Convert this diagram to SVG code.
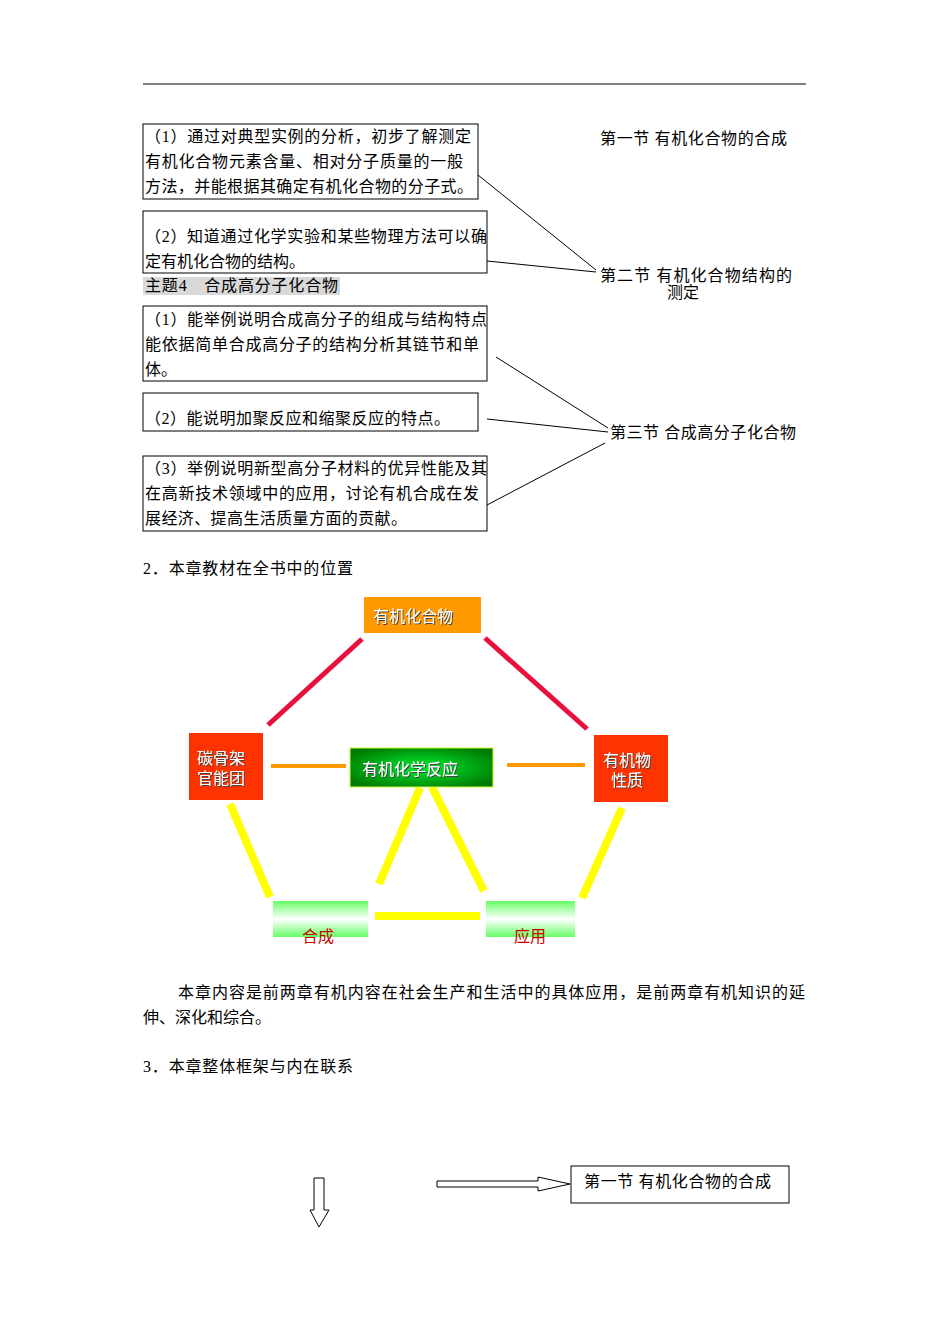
<svg xmlns="http://www.w3.org/2000/svg" width="950" height="1344" viewBox="0 0 950 1344">
<style>
.t{font-family:"Liberation Serif","Noto Sans CJK SC",serif;font-size:16px;fill:#000}
.b{fill:#fff;stroke:#000;stroke-width:1}
.w{font-family:"Noto Sans CJK SC",sans-serif;font-size:16px;fill:#fff;filter:url(#ds)}
.r{stroke:#E8103C;stroke-width:5}
.o{stroke:#FF9900;stroke-width:4}
.y{stroke:#FFFF00;stroke-width:8}
.k{stroke:#000;stroke-width:1;fill:none}
</style>
<defs>
<filter id="ds" x="-10%" y="-20%" width="130%" height="150%"><feDropShadow dx="1" dy="1" stdDeviation="0.3" flood-color="#444"/></filter>
<radialGradient id="gg" cx="0.5" cy="0.5" r="0.6"><stop offset="0" stop-color="#00ee33"/><stop offset="1" stop-color="#007a00"/></radialGradient>
<linearGradient id="lg" x1="0" y1="0" x2="0" y2="1"><stop offset="0" stop-color="#66ff66"/><stop offset="0.5" stop-color="#ffffff"/><stop offset="1" stop-color="#66ff66"/></linearGradient>
</defs>
<rect width="950" height="1344" fill="#fff"/>
<line x1="143" y1="84" x2="806" y2="84" stroke="#000" stroke-width="1"/>
<g id="box1"><rect class="b" x="143" y="124" width="335" height="75"/>
<text class="t" x="145" y="142" textLength="326">（1）通过对典型实例的分析，初步了解测定</text>
<text class="t" x="145" y="167" textLength="318">有机化合物元素含量、相对分子质量的一般</text>
<text class="t" x="145" y="192" textLength="328">方法，并能根据其确定有机化合物的分子式。</text></g>
<g id="box2"><rect class="b" x="143" y="211" width="344" height="62"/>
<text class="t" x="145" y="242" textLength="342">（2）知道通过化学实验和某些物理方法可以确</text>
<text class="t" x="145" y="267">定有机化合物的结构。</text></g>
<g id="topic"><rect x="143" y="277" width="197" height="18" fill="#d9d9d9"/>
<text class="t" x="145" y="291" textLength="193">主题4　合成高分子化合物</text></g>
<g id="box3"><rect class="b" x="143" y="306" width="344" height="75"/>
<text class="t" x="145" y="325" textLength="342">（1）能举例说明合成高分子的组成与结构特点</text>
<text class="t" x="145" y="350" textLength="334">能依据简单合成高分子的结构分析其链节和单</text>
<text class="t" x="145" y="375">体。</text></g>
<g id="box4"><rect class="b" x="143" y="393" width="335" height="38"/>
<text class="t" x="145" y="424" textLength="305">（2）能说明加聚反应和缩聚反应的特点。</text></g>
<g id="box5"><rect class="b" x="143" y="456" width="344" height="75"/>
<text class="t" x="145" y="474" textLength="342">（3）举例说明新型高分子材料的优异性能及其</text>
<text class="t" x="145" y="499" textLength="334">在高新技术领域中的应用，讨论有机合成在发</text>
<text class="t" x="145" y="524" textLength="262">展经济、提高生活质量方面的贡献。</text></g>
<g id="s1"><text class="t" x="600" y="144" textLength="187">第一节 有机化合物的合成</text></g>
<g id="s2"><text class="t" x="600" y="281" textLength="192">第二节 有机化合物结构的</text><text class="t" x="667" y="298">测定</text></g>
<g id="s3"><text class="t" x="610" y="438" textLength="186">第三节 合成高分子化合物</text></g>
<g id="connectors">
<path class="k" d="M478,175L596,270M487,261L596,272M496,357L608,428M487,419L608,432M487,505L605,443"/>
<line class="r" x1="362" y1="639" x2="268" y2="725"/>
<line class="r" x1="485" y1="638" x2="587" y2="729"/>
<line class="o" x1="271" y1="766" x2="346" y2="766"/>
<line class="o" x1="507" y1="765" x2="585" y2="765"/>
<line class="y" x1="230" y1="804" x2="270" y2="897"/>
<line class="y" x1="420" y1="788" x2="379" y2="884"/>
<line class="y" x1="432" y1="787" x2="484" y2="891"/>
<line class="y" x1="622" y1="808" x2="582" y2="898"/>
<line class="y" x1="375" y1="916" x2="480" y2="916"/>
<path d="M437,1181H538V1177L570,1184L538,1191V1187H437Z" fill="#fff" stroke="#000"/>
<path d="M314,1178H324V1210H329L319,1227L310,1210H314Z" fill="#fff" stroke="#000"/>
</g>
<text class="t" x="143" y="574" textLength="210">2．本章教材在全书中的位置</text>
<g id="n-top"><rect x="364" y="597" width="117" height="36" fill="#FF9900"/><text class="w" x="373" y="622">有机化合物</text></g>
<g id="n-left"><rect x="189" y="733" width="74" height="67" fill="#FF3300"/>
<text class="w" x="197" y="764">碳骨架</text><text class="w" x="197" y="784">官能团</text></g>
<g id="n-right"><rect x="594" y="735" width="74" height="67" fill="#FF3300"/>
<text class="w" x="603" y="766">有机物</text><text class="w" x="611" y="786">性质</text></g>
<g id="n-center"><rect x="350" y="748" width="143" height="39" fill="url(#gg)" stroke="#ccff33"/><text class="w" x="362" y="775">有机化学反应</text></g>
<g id="n-syn"><rect x="273" y="901" width="95" height="36" fill="url(#lg)"/><text x="302" y="942" font-family="Noto Sans CJK SC,sans-serif" font-size="16" fill="#CC0000">合成</text></g>
<g id="n-app"><rect x="486" y="901" width="89" height="36" fill="url(#lg)"/><text x="514" y="942" font-family="Noto Sans CJK SC,sans-serif" font-size="16" fill="#CC0000">应用</text></g>
<text class="t" x="178" y="998" textLength="627">本章内容是前两章有机内容在社会生产和生活中的具体应用，是前两章有机知识的延</text>
<text class="t" x="143" y="1023">伸、深化和综合。</text>
<text class="t" x="143" y="1072" textLength="210">3．本章整体框架与内在联系</text>
<g id="b-s1"><rect class="b" x="571" y="1166" width="218" height="37"/><text class="t" x="584" y="1187" textLength="187">第一节 有机化合物的合成</text></g>
</svg>
